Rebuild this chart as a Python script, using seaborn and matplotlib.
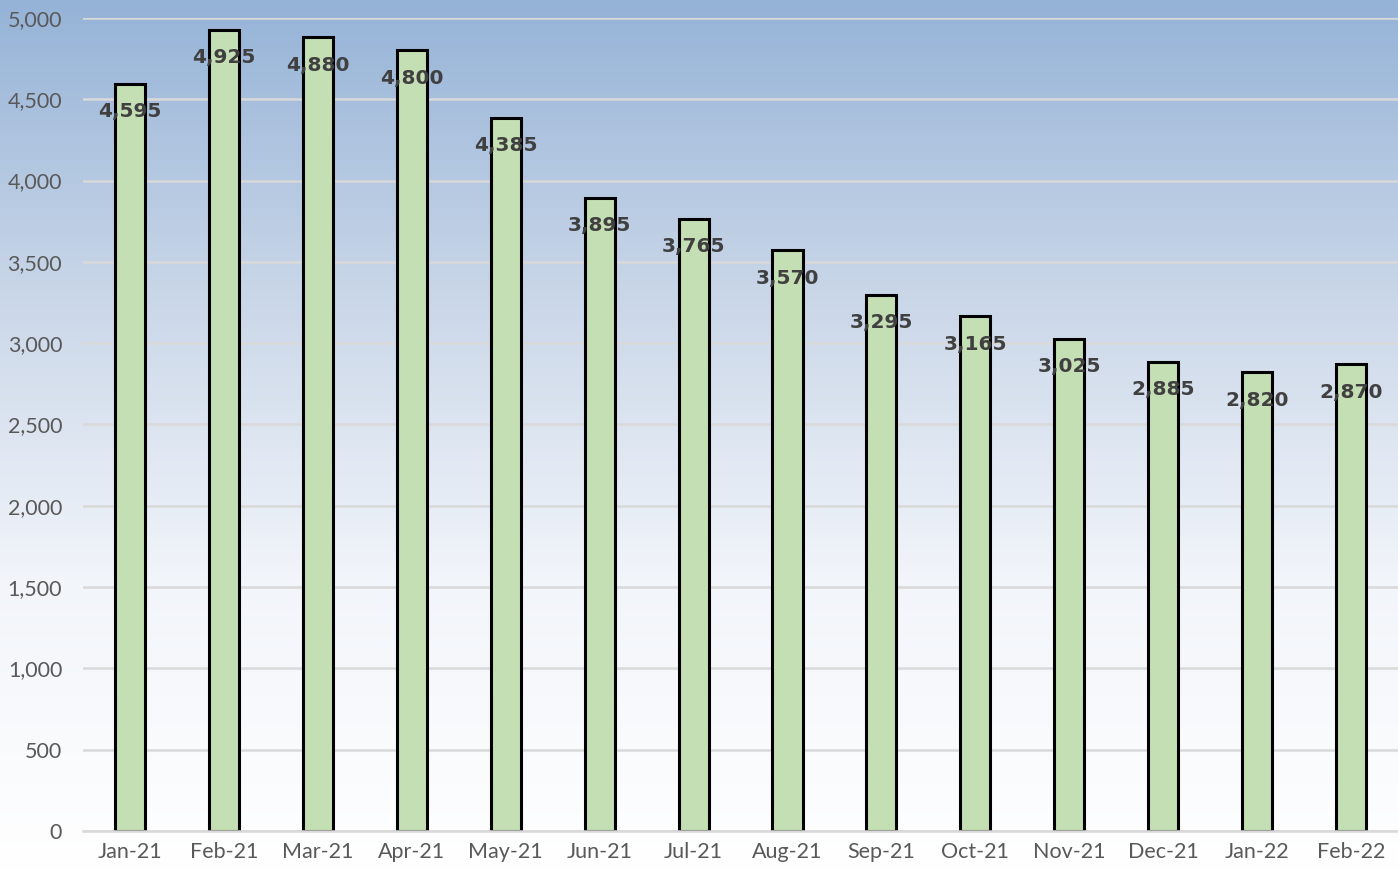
import matplotlib.pyplot as plt
import seaborn as sns
import pandas as pd
import numpy as np
from matplotlib.colors import LinearSegmentedColormap
from matplotlib.ticker import FuncFormatter, FixedLocator

months = ["Jan-21", "Feb-21", "Mar-21", "Apr-21", "May-21", "Jun-21", "Jul-21",
          "Aug-21", "Sep-21", "Oct-21", "Nov-21", "Dec-21", "Jan-22", "Feb-22"]
values = [4595, 4925, 4880, 4800, 4385, 3895, 3765, 3570, 3295, 3165, 3025, 2885, 2820, 2870]

df = pd.DataFrame({"Month": months, "Value": values})

sns.set_style("white")
plt.rcParams["font.family"] = ["Lato", "DejaVu Sans"]

fig = plt.figure(figsize=(13.98, 8.73), dpi=100)

# background gradient over the whole figure
bg = fig.add_axes([0, 0, 1, 1], zorder=0)
cmap = LinearSegmentedColormap.from_list("bg", ["#FFFFFF", "#F2F5FA", "#C9D6E8", "#95B3D7"])
grad = np.linspace(0, 1, 256).reshape(-1, 1)
bg.imshow(grad, aspect="auto", cmap=cmap, origin="lower", extent=[0, 1, 0, 1])
bg.axis("off")

ax = fig.add_axes([0.0594, 0.048, 0.9406, 0.9315], zorder=1)
ax.patch.set_alpha(0)

sns.barplot(data=df, x="Month", y="Value", color="#C4DFB3", width=0.32,
            edgecolor="black", linewidth=2.2, saturation=1, ax=ax, zorder=3)

ax.set_xlim(-0.5, len(months) - 0.5)
ax.set_ylim(0, 5000)
ax.set_yticks(range(0, 5001, 500))
ax.yaxis.set_major_formatter(FuncFormatter(lambda v, p: f"{int(v):,}"))
ax.grid(axis="y", color="#D9D9D9", linewidth=1.8, zorder=0)
ax.set_axisbelow(True)

for s in ["top", "right", "left"]:
    ax.spines[s].set_visible(False)
ax.spines["bottom"].set_color("#D9D9D9")
ax.spines["bottom"].set_linewidth(1.8)
ax.spines["bottom"].set_zorder(4)

ax.tick_params(axis="y", length=0, labelsize=15.5, labelcolor="#595959", pad=15)
ax.tick_params(axis="x", which="major", length=0, labelsize=15.5, labelcolor="#595959", pad=8)
ax.xaxis.set_minor_locator(FixedLocator(np.arange(-0.5, len(months), 1)))
ax.tick_params(axis="x", which="minor", length=7, width=1.8, color="#D9D9D9", direction="out")
ax.set_xlabel("")
ax.set_ylabel("")

for i, v in enumerate(values):
    ax.annotate(f"{v:,}", (i, v), xytext=(0, -20), textcoords="offset points",
                ha="center", va="center", fontsize=14.5, fontweight="bold",
                family="DejaVu Sans", color="#404040", zorder=5)

plt.savefig("out.png", dpi=100)
